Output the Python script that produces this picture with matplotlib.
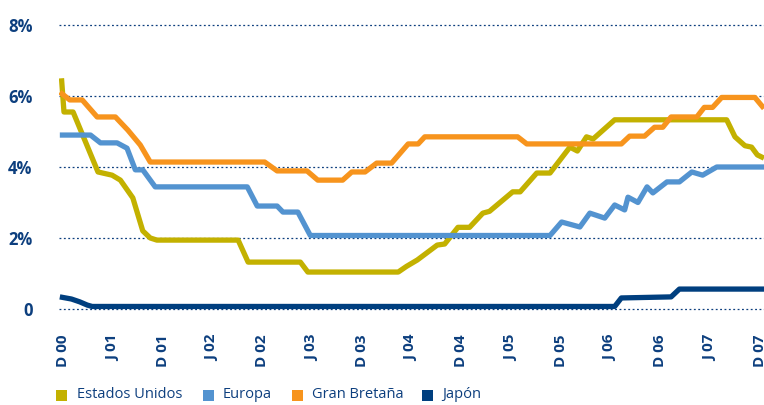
import matplotlib
matplotlib.use("Agg")
from matplotlib import pyplot as plt
from matplotlib.patches import Rectangle

plt.rcParams['font.family'] = ['Open Sans', 'DejaVu Sans']

#==========Data (months since Dec 2000, rate in %)==========
tick_pos = list(range(0, 85, 6))
tick_labels = ['D 00', 'J 01', 'D 01', 'J 02', 'D 02', 'J 03', 'D 03', 'J 04',
               'D 04', 'J 05', 'D 05', 'J 06', 'D 06', 'J 07', 'D 07']

us_t = [-0.2, 0.1, 1.2, 4.2, 5.9, 6.9, 8.4, 9.6, 10.5, 11.3, 21.1, 22.3, 28.6, 29.5,
        40.4, 41.4, 42.7, 45.1, 46.0, 47.6, 49.0, 50.6, 51.4, 54.2, 55.1, 57.1, 58.7,
        61.1, 62.0, 63.1, 63.9, 66.5, 80.0, 81.0, 82.2, 83.0, 83.7, 84.5]
us_v = [6.5, 5.55, 5.55, 3.86, 3.77, 3.63, 3.13, 2.2, 2.0, 1.94, 1.94, 1.32, 1.32, 1.04,
        1.04, 1.2, 1.38, 1.8, 1.83, 2.3, 2.3, 2.7, 2.75, 3.3, 3.3, 3.83, 3.83,
        4.56, 4.45, 4.85, 4.79, 5.33, 5.33, 4.85, 4.6, 4.56, 4.34, 4.25]

eu_t = [-0.4, 3.3, 4.5, 6.5, 7.7, 8.7, 9.6, 11.1, 22.2, 23.4, 25.8, 26.5, 28.3, 29.8,
        58.7, 60.1, 62.3, 63.5, 65.3, 66.5, 67.7, 68.1, 69.3, 70.4, 71.1, 72.8, 74.3,
        75.8, 77.1, 78.8, 84.5]
eu_v = [4.9, 4.9, 4.68, 4.68, 4.53, 3.92, 3.92, 3.44, 3.44, 2.9, 2.9, 2.73, 2.73, 2.07,
        2.07, 2.45, 2.31, 2.7, 2.56, 2.93, 2.79, 3.15, 3.0, 3.44, 3.27, 3.58, 3.58,
        3.86, 3.77, 4.0, 4.0]

gb_t = [-0.4, 0.8, 2.3, 4.1, 6.3, 7.8, 9.3, 10.5, 24.3, 25.8, 29.4, 30.7, 33.7, 34.8,
        36.4, 37.8, 39.6, 41.6, 42.8, 43.6, 54.8, 55.9, 67.3, 68.3, 70.1, 71.3, 72.3,
        73.3, 76.4, 77.3, 78.3, 79.4, 83.4, 84.5]
gb_v = [6.11, 5.89, 5.89, 5.41, 5.41, 5.04, 4.62, 4.14, 4.14, 3.89, 3.89, 3.63, 3.63, 3.86,
        3.86, 4.11, 4.11, 4.65, 4.65, 4.85, 4.85, 4.65, 4.65, 4.87, 4.87, 5.12, 5.12,
        5.41, 5.41, 5.68, 5.68, 5.96, 5.96, 5.65]

jp_t = [-0.4, 1.0, 2.0, 2.9, 3.5, 66.5, 67.3, 73.3, 74.3, 84.5]
jp_v = [0.34, 0.28, 0.2, 0.11, 0.07, 0.07, 0.31, 0.34, 0.56, 0.56]

series = [
    ('Estados Unidos', us_t, us_v, '#C3B100'),
    ('Europa', eu_t, eu_v, '#5393D0'),
    ('Gran Bretaña', gb_t, gb_v, '#F7941D'),
    ('Japón', jp_t, jp_v, '#003F7F'),
]
navy = '#0D3F7E'

#==========Figure==========
W, H = 764, 405
fig = plt.figure(figsize=(W / 100, H / 100), dpi=100)
ax = fig.add_axes([59 / W, (H - 312.5) / H, (W - 59) / W, (312.5 - 21.5) / H])

for name, t, v, c in series:
    ax.plot(t, v, color=c, lw=3.8, solid_joinstyle='round', solid_capstyle='butt', zorder=3)

ax.set_xlim(-0.5, 84.5)
ax.set_ylim(-0.1, 8.1)
ax.set_yticks([0, 2, 4, 6, 8])
ax.set_yticklabels(['0', '2%', '4%', '6%', '8%'])
ax.set_xticks(tick_pos)
ax.set_xticklabels(tick_labels, rotation=90, va='top', ha='center')

ax.yaxis.grid(True, color=navy, linestyle=(0, (1.5, 2)), lw=0.9)
ax.xaxis.grid(False)
for s in ax.spines.values():
    s.set_visible(False)
ax.tick_params(axis='both', length=0, colors=navy)
ax.tick_params(axis='y', pad=19, labelsize=12)
ax.tick_params(axis='x', pad=16, labelsize=11)
for lab in ax.get_xticklabels() + ax.get_yticklabels():
    lab.set_fontweight('bold')

# legend built by hand along the bottom
sq_x = [56, 203, 292, 422]
txt_x = [77, 223, 312, 442]
for (name, t, v, c), sx, tx in zip(series, sq_x, txt_x):
    fig.add_artist(Rectangle((sx / W, (H - 400.5) / H), 11 / W, 11 / H,
                             transform=fig.transFigure, color=c, lw=0))
    fig.text(tx / W, (H - 395) / H, name, color=navy, fontsize=10.5, va='center', ha='left')

plt.savefig('out.png', dpi=100)
